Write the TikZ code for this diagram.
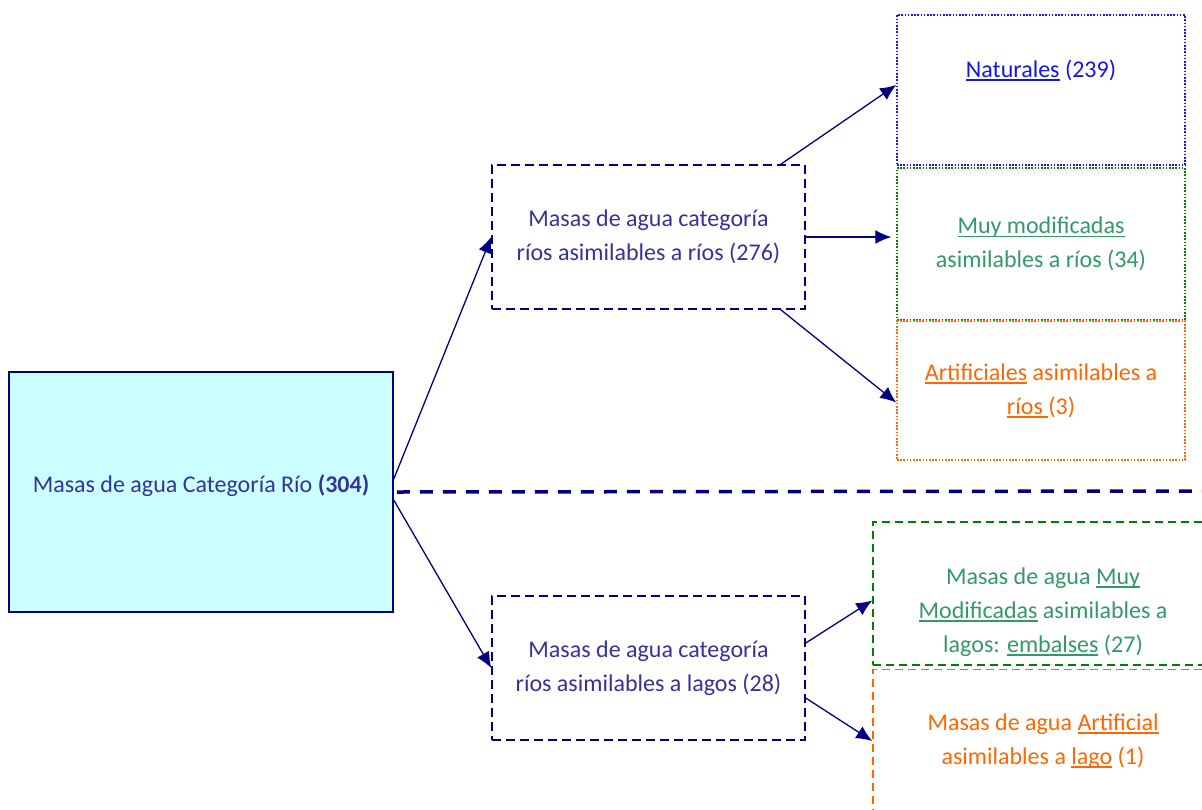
\documentclass[tikz,border=0pt]{standalone}
\usepackage{fontspec}
\setmainfont{Carlito}
\usetikzlibrary{arrows.meta}

\definecolor{navyline}{HTML}{000080}
\definecolor{navytext}{HTML}{333399}
\definecolor{rootfill}{HTML}{CCFFFF}
\definecolor{natblue}{HTML}{1414F0}
\definecolor{modgreen}{HTML}{008000}
\definecolor{modtext}{HTML}{339966}
\definecolor{artorange}{HTML}{FF6600}

% move the text of a box up or down without changing the box
\newcommand{\movetext}[2]{\raisebox{#1}[0pt][0pt]{#2}}
% underline at a fixed depth
\newsavebox{\ulbox}
\newcommand{\uln}[1]{\sbox{\ulbox}{#1}\rlap{\rule[-3.5pt]{\wd\ulbox}{1.4pt}}\usebox{\ulbox}}

\begin{document}
\begin{tikzpicture}[x=1pt,y=-1pt,
  box/.style={draw,inner sep=0,align=center,font=\fontsize{24}{34}\selectfont},
  midbox/.style={box,navyline,text=navytext,line width=1.5pt,dash pattern=on 9pt off 5pt,
    minimum width=313,minimum height=144},
  dotbox/.style={box,line width=1.5pt,dash pattern=on 1.6pt off 1.6pt,minimum width=288},
  dashbox/.style={box,line width=1.5pt,dash pattern=on 8pt off 5pt,minimum width=340,minimum height=143},
  arr/.style={navyline,line width=1.3pt,-{Latex[length=16pt,width=14pt]}}]
  \useasboundingbox (0,0) rectangle (1202,809);

  \draw (201,492) node[box,fill=rootfill,draw=navyline,text=navytext,line width=1.5pt,
    minimum width=384,minimum height=240] (root)
    {\movetext{0pt}{Masas de agua Categoría Río \textbf{(304)}}};

  \draw (648.5,237) node[midbox] (rios) {Masas de agua categoría\\ríos asimilables a ríos (276)};
  \draw (648.5,668) node[midbox] (lagos) {Masas de agua categoría\\ríos asimilables a lagos (28)};

  \draw (1041,90) node[dotbox,natblue,minimum height=150] (nat)
    {\movetext{13pt}{\uln{Naturales} (239)}};
  \draw (1041,244) node[dotbox,modgreen,text=modtext,minimum height=152] (muy)
    {\uln{Muy modificadas}\\asimilables a ríos (34)};
  \draw (1041,390.5) node[dotbox,artorange,minimum height=139] (art)
    {\uln{Artificiales} asimilables a\\\uln{ríos\ }(3)};

  \draw (1043,593.5) node[dashbox,modgreen,text=modtext] (muylago)
    {\movetext{-24pt}{\begin{tabular}{@{}c@{}}Masas de agua \uln{Muy}\\
      \uln{Modificadas} asimilables a\\lagos: \uln{embalses} (27)\end{tabular}}};
  \draw (1043,741) node[dashbox,artorange] (artlago)
    {Masas de agua \uln{Artificial}\\asimilables a \uln{lago} (1)};

  \coordinate (sepend) at (1210,491);
  \draw[navyline,line width=3.5pt,dash pattern=on 13pt off 10pt] ([xshift=3pt]root.east) -- (sepend);

  \draw[arr] ([yshift=13pt]root.east) -- (rios.west);
  \draw[arr] ([yshift=-8pt]root.east) -- (lagos.west);
  \draw[arr] ([xshift=-25pt]rios.north east) -- ([yshift=5pt]nat.west);
  \draw[arr,shorten >=5pt] (rios.east) -- (rios.east -| muy.west);
  \draw[arr] ([xshift=-25pt]rios.south east) -- ([yshift=-12pt]art.west);
  \draw[arr] ([yshift=25pt]lagos.east) -- ([yshift=-7pt]muylago.west);
  \draw[arr] ([yshift=-30pt]lagos.east) -- (artlago.west);
\end{tikzpicture}
\end{document}
